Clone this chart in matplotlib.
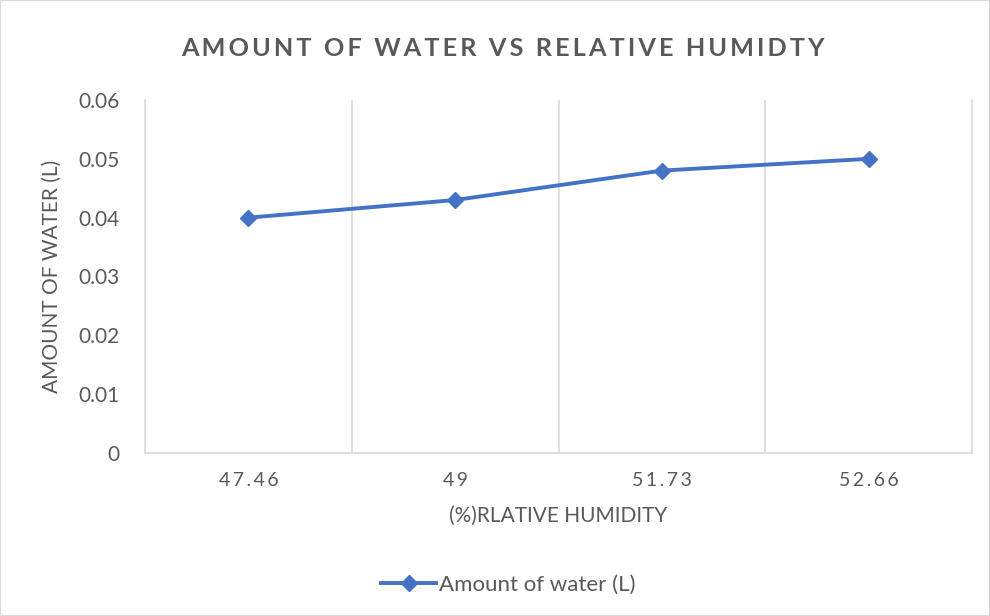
import matplotlib.pyplot as plt
from matplotlib.patches import Rectangle

# chart data
humidity = ['47.46', '49', '51.73', '52.66']
water = [0.04, 0.043, 0.048, 0.05]

text_color = '#595959'
grid_color = '#D9D9D9'
line_color = '#4472C4'

plt.rcParams['font.family'] = ['Lato', 'DejaVu Sans']


def spaced(s, sep='\u200a'):
    return sep.join(s)


fig = plt.figure(figsize=(9.9, 6.16), dpi=100)
ax = fig.add_axes([145 / 990, 1 - 453 / 616, (972 - 145) / 990, (453 - 100) / 616])

x = list(range(len(humidity)))
ax.plot(x, water, color=line_color, linewidth=2.8, marker='D', markersize=8,
        label='Amount of water (L)', zorder=3)

ax.set_xlim(-0.5, len(humidity) - 0.5)
ax.set_ylim(0, 0.06)
ax.set_yticks([0, 0.01, 0.02, 0.03, 0.04, 0.05, 0.06])
ax.set_yticklabels(['0', '0.01', '0.02', '0.03', '0.04', '0.05', '0.06'])
ax.set_xticks(x)
ax.set_xticklabels([spaced(h, '\u2009') for h in humidity])

# vertical gridlines at category boundaries
for b in [0.5, 1.5, 2.5]:
    ax.axvline(b, color=grid_color, linewidth=1.2, zorder=1)

ax.spines['top'].set_visible(False)
for side in ['left', 'right', 'bottom']:
    ax.spines[side].set_color(grid_color)
    ax.spines[side].set_linewidth(1.2)

ax.tick_params(axis='both', length=0, colors=text_color)
ax.tick_params(axis='x', labelsize=14, pad=14)
ax.tick_params(axis='y', labelsize=15, pad=18)

ax.set_xlabel('(%)RLATIVE HUMIDITY', color=text_color, fontsize=15, labelpad=12)
ax.set_ylabel('AMOUNT OF WATER (L)', color=text_color, fontsize=15, labelpad=12)

fig.text(0.508, 1 - 48 / 616, spaced('AMOUNT OF WATER VS RELATIVE HUMIDTY', '\u2009'),
         ha='center', va='center', fontsize=18.2, fontweight='bold', color=text_color)

fig.legend(loc='center', bbox_to_anchor=(508 / 990, 1 - 585 / 616), frameon=False,
           fontsize=16, labelcolor=text_color, handlelength=2.5, handletextpad=0.1)

# chart border
fig.patches.append(Rectangle((0, 0), 1, 1, transform=fig.transFigure, fill=False,
                             edgecolor=grid_color, linewidth=1.5))

plt.savefig('out.png', dpi=100)
plt.close()
